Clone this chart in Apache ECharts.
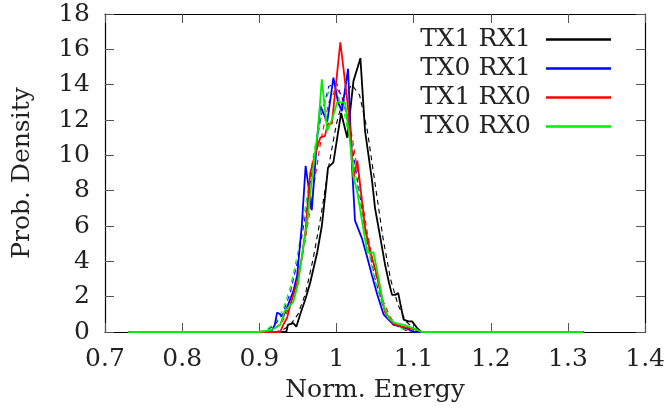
<!DOCTYPE html>
<html>
<head>
<meta charset="utf-8">
<script src="https://cdn.jsdelivr.net/npm/echarts@6/dist/echarts.min.js"></script>
<style>html,body{margin:0;padding:0;background:#fff}#c{width:668px;height:412px}</style>
</head>
<body>
<div id="c"></div>
<script>
var seriesNames = ['TX1 RX1', 'TX0 RX1', 'TX1 RX0', 'TX0 RX0'];
var xAxisTitle = 'Norm. Energy';
var yAxisTitle = 'Prob. Density';
var xMin = 0.7, xMax = 1.4, xStep = 0.1;
var yMin = 0, yMax = 18, yStep = 2;

var tx1rx1 = [[0.73,0],[0.935,0],[0.937,0.4],[0.944,0.5],[0.948,0.3],[0.953,1.0],[0.960,1.9],[0.966,2.8],[0.975,4.5],[0.981,6.0],[0.986,8.0],[0.989,9.3],[0.996,9.6],[1.006,12.4],[1.014,11.0],[1.022,14.2],[1.031,15.5],[1.037,11.4],[1.046,8.6],[1.050,7.0],[1.057,5.3],[1.063,3.8],[1.068,2.8],[1.072,2.1],[1.076,2.1],[1.080,2.2],[1.087,0.7],[1.093,0.6],[1.098,0.6],[1.105,0.2],[1.11,0],[1.32,0]];
var tx0rx1 = [[0.73,0],[0.915,0],[0.920,0.4],[0.923,1.1],[0.927,1.0],[0.931,0.85],[0.936,1.4],[0.944,2.3],[0.949,3.2],[0.955,6.0],[0.960,9.4],[0.968,6.9],[0.975,11.0],[0.979,12.8],[0.988,11.9],[0.996,14.4],[1.002,13.0],[1.007,12.5],[1.015,14.9],[1.020,9.5],[1.024,6.3],[1.033,5.3],[1.040,4.2],[1.046,3.2],[1.053,2.1],[1.061,1.0],[1.074,0.4],[1.085,0.3],[1.096,0.1],[1.10,0],[1.32,0]];
var tx1rx0 = [[0.73,0],[0.927,0],[0.931,0.4],[0.936,0.8],[0.940,1.5],[0.949,2.8],[0.955,4.2],[0.960,5.8],[0.966,9.0],[0.972,10.0],[0.979,11.0],[0.985,11.1],[0.989,11.8],[0.994,11.8],[1.005,16.4],[1.014,13.1],[1.018,11.4],[1.022,8.7],[1.027,9.7],[1.031,8.2],[1.037,5.9],[1.044,4.5],[1.050,3.6],[1.057,2.3],[1.063,1.1],[1.072,0.5],[1.083,0.3],[1.096,0.2],[1.105,0.1],[1.11,0],[1.32,0]];
var tx0rx0 = [[0.73,0],[0.90,0],[0.915,0.1],[0.927,0.4],[0.933,1.2],[0.940,1.5],[0.944,1.7],[0.950,2.7],[0.955,4.2],[0.962,6.2],[0.967,8.2],[0.972,10.1],[0.976,11.4],[0.981,14.3],[0.988,11.4],[0.994,12.0],[1.001,13.0],[1.011,13.0],[1.017,11.0],[1.022,8.8],[1.027,7.9],[1.033,6.3],[1.040,4.5],[1.048,4.5],[1.053,3.4],[1.061,1.5],[1.067,0.8],[1.076,0.5],[1.087,0.4],[1.100,0.2],[1.111,0],[1.32,0]];

var fitTx1rx1 = [[0.92,0],[0.93,0.1],[0.94,0.4],[0.95,1.0],[0.96,2.2],[0.97,4.2],[0.98,6.6],[0.99,9.4],[1.00,11.8],[1.01,13.4],[1.02,14.0],[1.03,13.4],[1.04,11.4],[1.05,8.4],[1.06,5.4],[1.07,3.0],[1.08,1.5],[1.09,0.6],[1.10,0.2],[1.11,0]];
var fitTx0rx1 = [[0.90,0],[0.91,0.1],[0.92,0.4],[0.93,1.0],[0.94,2.2],[0.95,4.1],[0.96,6.7],[0.97,9.6],[0.98,12.2],[0.99,13.9],[1.00,14.1],[1.01,12.9],[1.02,10.6],[1.03,7.8],[1.04,5.1],[1.05,3.0],[1.06,1.5],[1.07,0.7],[1.08,0.3],[1.09,0.1],[1.10,0]];
var fitTx1rx0 = [[0.91,0],[0.92,0.2],[0.93,0.6],[0.94,1.5],[0.95,3.0],[0.96,5.3],[0.97,8.1],[0.98,10.9],[0.99,13.0],[1.00,13.8],[1.01,13.1],[1.02,11.1],[1.03,8.4],[1.04,5.6],[1.05,3.4],[1.06,1.8],[1.07,0.8],[1.08,0.35],[1.09,0.1],[1.10,0]];
var fitTx0rx0 = [[0.90,0],[0.91,0.15],[0.92,0.5],[0.93,1.2],[0.94,2.5],[0.95,4.5],[0.96,7.2],[0.97,10.0],[0.98,12.3],[0.99,13.6],[1.00,13.6],[1.01,12.4],[1.02,10.2],[1.03,7.5],[1.04,4.9],[1.05,2.9],[1.06,1.5],[1.07,0.7],[1.08,0.3],[1.09,0.1],[1.10,0]];

var colors = ['#000000', '#0000ff', '#ff0000', '#00ee00'];
var solidData = [tx1rx1, tx0rx1, tx1rx0, tx0rx0];
var fitData = [fitTx1rx1, fitTx0rx1, fitTx1rx0, fitTx0rx0];

var FONT = 'DejaVu Serif';
var TXT = '#222';
var chart = echarts.init(document.getElementById('c'), null, {renderer: 'canvas'});

var series = [];
for (var i = 0; i < 4; i++) {
  series.push({
    name: seriesNames[i], type: 'line', data: solidData[i], showSymbol: false, symbol: 'none',
    lineStyle: {color: colors[i], width: 1.8}, itemStyle: {color: colors[i]}, animation: false, z: 3 + i
  });
}
for (var j = 0; j < 4; j++) {
  series.push({
    name: 'fit ' + seriesNames[j], type: 'line', data: fitData[j], showSymbol: false, symbol: 'none',
    lineStyle: {color: colors[j], width: 1.1, type: [5, 4]}, itemStyle: {color: colors[j]}, animation: false, z: 2
  });
}

function axisCommon(extra) {
  var base = {
    axisLine: {show: true, onZero: false, lineStyle: {color: '#000', width: 1.2}},
    axisTick: {show: true, inside: true, length: 9, lineStyle: {color: '#555', width: 1}},
    splitLine: {show: false},
    axisLabel: {show: false}
  };
  for (var k in extra) base[k] = extra[k];
  return base;
}

chart.setOption({
  animation: false,
  backgroundColor: '#fff',
  grid: {left: 105, right: 22, top: 14, bottom: 80, containLabel: false},
  legend: {
    data: seriesNames.map(function (n) { return {name: n, icon: 'rect'}; }),
    orient: 'vertical', align: 'right', right: 52, top: 22,
    itemWidth: 65, itemHeight: 2.5, itemGap: 4,
    textStyle: {fontFamily: FONT, fontSize: 25, color: TXT, padding: [0, 10, 0, 0]},
    selectedMode: false
  },
  xAxis: [
    axisCommon({type: 'value', min: xMin, max: xMax, interval: xStep, position: 'bottom',
      name: xAxisTitle, nameLocation: 'middle', nameGap: 46,
      nameTextStyle: {fontFamily: FONT, fontSize: 25, color: TXT},
      axisLabel: {show: true, margin: 15, fontFamily: FONT, fontSize: 25, color: TXT,
        formatter: function (v) { return String(Math.round(v * 10) / 10); }}}),
    axisCommon({type: 'value', min: xMin, max: xMax, interval: xStep, position: 'top'})
  ],
  yAxis: [
    axisCommon({type: 'value', min: yMin, max: yMax, interval: yStep, position: 'left',
      name: yAxisTitle, nameLocation: 'middle', nameGap: 70, nameRotate: 90,
      nameTextStyle: {fontFamily: FONT, fontSize: 25, color: TXT},
      axisLabel: {show: true, margin: 15, fontFamily: FONT, fontSize: 25, color: TXT}}),
    axisCommon({type: 'value', min: yMin, max: yMax, interval: yStep, position: 'right'})
  ],
  series: series
});
</script>
</body>
</html>
